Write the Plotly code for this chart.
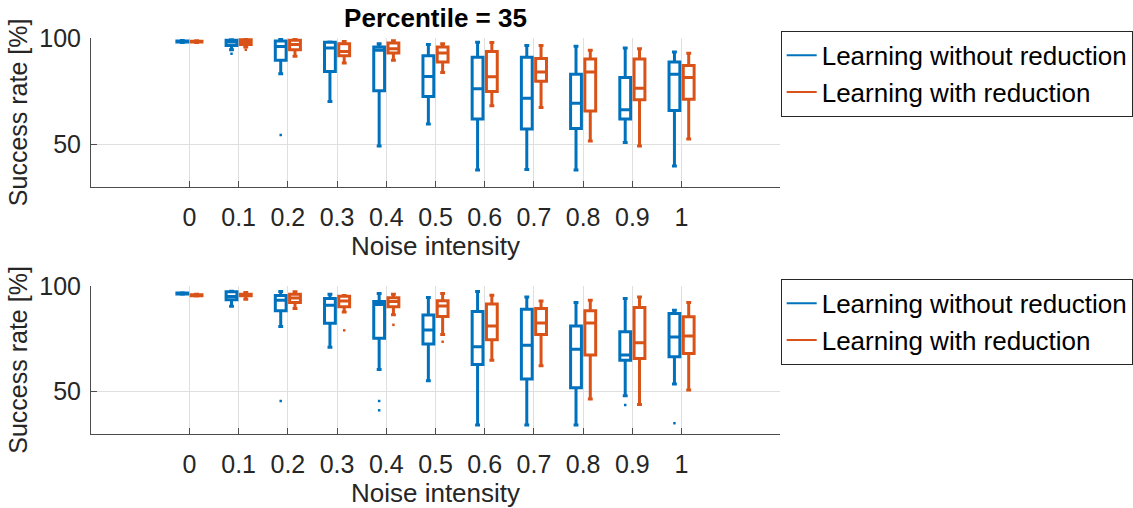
import plotly.graph_objects as go

noise = [0, 0.1, 0.2, 0.3, 0.4, 0.5, 0.6, 0.7, 0.8, 0.9, 1.0]
tick_labels = ["0", "0.1", "0.2", "0.3", "0.4", "0.5", "0.6", "0.7", "0.8", "0.9", "1"]

# ---- Top panel ----
top_wo_q1 = [98.1, 96.5, 89.5, 84.3, 75.2, 72.5, 61.9, 57.2, 57.4, 61.9, 65.9]
top_wo_med = [98.4, 98.1, 96.0, 95.3, 94.2, 81.9, 76.1, 71.7, 69.3, 66.2, 83.0]
top_wo_q3 = [98.6, 98.9, 98.6, 98.0, 95.8, 91.7, 90.9, 91.0, 83.0, 81.4, 88.7]
top_wo_lo = [97.9, 94.5, 83.2, 70.1, 49.2, 59.6, 37.9, 38.2, 37.9, 50.8, 39.8]
top_wo_hi = [98.8, 99.2, 99.5, 98.1, 97.3, 97.0, 98.0, 96.5, 96.1, 95.3, 93.4]
top_wo_out_x = [0.1, 0.2]
top_wo_out_y = [92.6, 54.4]

top_w_q1 = [98.1, 97.0, 94.5, 91.7, 92.9, 88.7, 74.8, 79.6, 65.7, 70.9, 71.2]
top_w_med = [98.3, 98.1, 96.9, 93.7, 95.0, 93.0, 81.8, 84.0, 84.0, 76.4, 81.4]
top_w_q3 = [98.5, 99.2, 98.9, 97.3, 97.6, 95.8, 93.6, 90.3, 90.1, 90.1, 87.1]
top_w_lo = [97.9, 95.8, 91.4, 88.2, 89.5, 83.8, 68.1, 67.3, 51.6, 49.2, 52.5]
top_w_hi = [98.7, 99.7, 99.5, 98.4, 98.7, 97.3, 97.9, 96.5, 94.2, 95.0, 92.8]
top_w_out_x = [0.1]
top_w_out_y = [94.5]

# ---- Bottom panel ----
bot_wo_q1 = [96.2, 93.4, 88.3, 82.3, 75.2, 72.5, 62.9, 56.0, 51.9, 64.9, 66.5]
bot_wo_med = [96.4, 95.0, 93.2, 90.9, 91.2, 79.1, 71.2, 72.0, 70.1, 67.3, 75.9]
bot_wo_q3 = [96.6, 97.2, 95.5, 94.0, 92.6, 86.2, 87.9, 89.0, 81.1, 78.3, 87.0]
bot_wo_lo = [96.0, 90.4, 80.8, 71.0, 60.5, 55.2, 34.3, 34.3, 34.3, 48.1, 53.6]
bot_wo_hi = [96.8, 97.5, 97.3, 96.1, 96.4, 94.5, 97.4, 94.8, 92.1, 94.0, 88.5]
bot_wo_out_x = [0.2, 0.4, 0.4, 0.9, 1.0]
bot_wo_out_y = [45.6, 45.6, 41.2, 43.7, 35.1]

bot_w_q1 = [95.4, 95.3, 92.1, 90.1, 90.1, 85.5, 74.6, 77.0, 67.3, 65.7, 68.1]
bot_w_med = [95.6, 95.6, 94.3, 92.9, 92.6, 90.5, 81.0, 82.5, 82.5, 73.1, 76.3]
bot_w_q3 = [95.8, 96.1, 96.1, 95.1, 94.4, 93.0, 91.4, 89.3, 88.2, 89.8, 85.4]
bot_w_lo = [95.2, 93.7, 89.3, 87.7, 86.4, 77.0, 64.9, 62.3, 46.5, 44.0, 50.8]
bot_w_hi = [96.0, 96.9, 97.2, 95.5, 96.0, 96.4, 95.6, 92.9, 93.2, 94.8, 92.1]
bot_w_out_x = [0.3, 0.4, 0.5]
bot_w_out_y = [79.0, 81.6, 73.6]

BLUE = "#0072BD"
ORANGE = "#D95319"
FONT = "Liberation Sans, Arial, sans-serif"
OFFSET = 0.0145
BOXW = 0.022

fig = go.Figure()


def add_panel(xa, ya, series, legend_name):
    for name, color, sign, q1, med, q3, lo, hi, ox, oy in series:
        fig.add_trace(go.Box(
            x=[v + sign * OFFSET for v in noise],
            q1=q1, median=med, q3=q3, lowerfence=lo, upperfence=hi,
            boxpoints=False, width=BOXW, whiskerwidth=0.45,
            line=dict(color=color, width=3), fillcolor="rgba(255,255,255,0)",
            showlegend=False, xaxis=xa, yaxis=ya, hoverinfo="skip",
        ))
        fig.add_trace(go.Scatter(
            x=[v + sign * OFFSET for v in ox], y=oy, mode="markers",
            marker=dict(color=color, size=2.5, symbol="square", line=dict(width=0)),
            showlegend=False, xaxis=xa, yaxis=ya, hoverinfo="skip",
        ))
    for name, color, *_ in series:
        fig.add_trace(go.Scatter(
            x=[None], y=[None], mode="lines", name=name,
            line=dict(color=color, width=2), legend=legend_name,
            xaxis=xa, yaxis=ya, showlegend=True,
        ))


add_panel("x", "y", [
    ("Learning without reduction", BLUE, -1, top_wo_q1, top_wo_med, top_wo_q3, top_wo_lo, top_wo_hi, top_wo_out_x, top_wo_out_y),
    ("Learning with reduction", ORANGE, 1, top_w_q1, top_w_med, top_w_q3, top_w_lo, top_w_hi, top_w_out_x, top_w_out_y),
], "legend")
add_panel("x2", "y2", [
    ("Learning without reduction", BLUE, -1, bot_wo_q1, bot_wo_med, bot_wo_q3, bot_wo_lo, bot_wo_hi, bot_wo_out_x, bot_wo_out_y),
    ("Learning with reduction", ORANGE, 1, bot_w_q1, bot_w_med, bot_w_q3, bot_w_lo, bot_w_hi, bot_w_out_x, bot_w_out_y),
], "legend2")

axis_common = dict(
    showline=True, linecolor="#4d4d4d", linewidth=1, mirror=False,
    ticks="inside", ticklen=6, tickcolor="#4d4d4d", tickwidth=1,
    showgrid=True, gridcolor="#dfdfdf", gridwidth=1, zeroline=False,
    tickfont=dict(family=FONT, size=25, color="#262626"),
)
xaxis_common = dict(axis_common, range=[-0.2, 1.2], tickvals=noise, ticktext=tick_labels,
                    ticklabelstandoff=8,
                    title=dict(text="Noise intensity", font=dict(family=FONT, size=26, color="#262626"), standoff=6))
yaxis_common = dict(axis_common, range=[30, 100], tickvals=[50, 100], ticktext=["50", "100"],
                    ticklabelstandoff=4,
                    title=dict(text="Success rate [%]", font=dict(family=FONT, size=25, color="#262626"), standoff=4))

legend_common = dict(
    font=dict(family=FONT, size=26, color="#000000"),
    bgcolor="white", bordercolor="#262626", borderwidth=1,
    xanchor="left", yanchor="top", x=1.001, itemwidth=30, tracegroupgap=0,
)

fig.update_layout(
    width=1133, height=508,
    margin=dict(l=91, r=353, t=38, b=74, autoexpand=False),
    plot_bgcolor="white", paper_bgcolor="white",
    boxmode="overlay",
    xaxis=dict(xaxis_common, domain=[0, 1], anchor="y"),
    yaxis=dict(yaxis_common, domain=[0.6242, 1], anchor="x"),
    xaxis2=dict(xaxis_common, domain=[0, 1], anchor="y2"),
    yaxis2=dict(yaxis_common, domain=[0, 0.374], anchor="x2"),
    legend=dict(legend_common, y=1.018),
    legend2=dict(legend_common, y=0.392),
    title=dict(text="<b>Percentile = 35</b>", x=0.5, xref="paper", xanchor="center",
               y=1 - 18 / 508, yref="container", yanchor="middle",
               font=dict(family=FONT, size=26, color="#000000")),
)

fig.write_html("out.html")
